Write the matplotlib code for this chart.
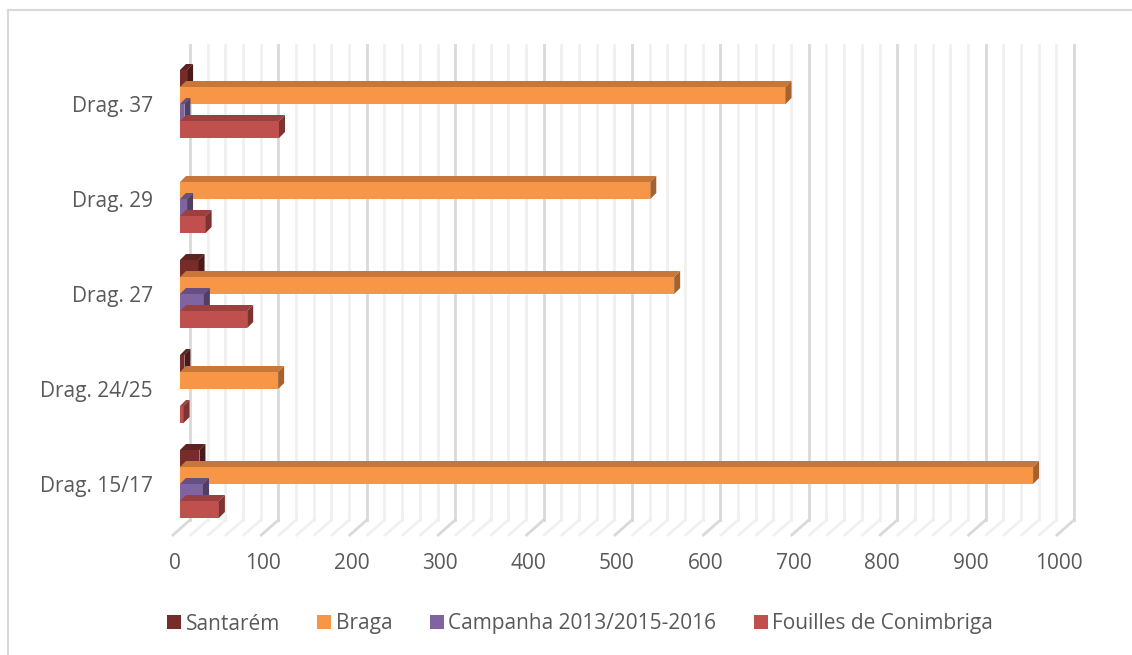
import numpy as np
import matplotlib
matplotlib.use('Agg')
import matplotlib.pyplot as plt
from matplotlib.patches import Polygon, Patch
from matplotlib.transforms import ScaledTranslation

plt.rcParams['font.family'] = ['Open Sans', 'DejaVu Sans']

# Categories bottom to top, and one value list per series
categories = ['Drag. 15/17', 'Drag. 24/25', 'Drag. 27', 'Drag. 29', 'Drag. 37']
santarem = [22, 5, 21, 0, 8]
braga = [965, 111, 559, 532, 685]
campanha = [26, 0, 27, 8, 5]
fouilles = [44, 4, 76, 29, 112]

series_names = ['Santarém', 'Braga', 'Campanha 2013/2015-2016', 'Fouilles de Conimbriga']
series_values = [santarem, braga, campanha, fouilles]
# front, top and side face colours
series_colors = [
    ('#772C2A', '#5E2220', '#4A1A19'),
    ('#F79646', '#C8773A', '#A5622D'),
    ('#8064A2', '#665083', '#4F3E66'),
    ('#C0504D', '#9A403E', '#7C3331'),
]

W, H = 1132, 655
fig = plt.figure(figsize=(W / 100, H / 100), dpi=100)

# axes placed in pixels: x=0 lands at 180 px, 0.884 px per unit; categories 95 px apart
ax_l, ax_r, ax_t, ax_b = 160, 1100, 40, 545
ax = fig.add_axes([ax_l / W, 1 - ax_b / H, (ax_r - ax_l) / W, (ax_b - ax_t) / H])
px_x = 0.884
px_y = 95.0
ax.set_xlim((ax_l - 180) / px_x, (ax_r - 180) / px_x)
ax.set_ylim(-(ax_b - 484) / px_y, (484 - ax_t) / px_y)

# back wall and floor gridlines
y_top = (484 - 45) / px_y
y_back = (484 - 520) / px_y
y_front = (484 - 535) / px_y
back_off = 10 / px_x
front_off = -7 / px_x
for t in range(0, 1001, 20):
    major = t % 100 == 0
    c = '#D9D9D9' if major else '#F0F0F0'
    ax.plot([t + back_off, t + back_off], [y_back, y_top], color=c, lw=2, zorder=0.5)
    ax.plot([t + back_off, t + front_off], [y_back, y_front], color=c, lw=2, zorder=0.5)

# bars with a shallow 3D top and side face
h = 17 / px_y
dx = 6 / px_x
dy = 6 / px_y
offsets = [1.5, 0.5, -0.5, -1.5]
y = np.arange(len(categories))
for k, (vals, cols, off) in enumerate(zip(series_values, series_colors, offsets)):
    front, top, side = cols
    for i, v in enumerate(vals):
        if v <= 0:
            continue
        yc = y[i] + off * h
        z = 2 + k
        ax.barh(yc, v, height=h, left=0, color=front, edgecolor='none', zorder=z)
        yt = yc + h / 2
        yb = yc - h / 2
        ax.add_patch(Polygon([(0, yt), (v, yt), (v + dx, yt + dy), (dx, yt + dy)],
                             closed=True, facecolor=top, edgecolor='none', zorder=z))
        ax.add_patch(Polygon([(v, yb), (v, yt), (v + dx, yt + dy), (v + dx, yb + dy)],
                             closed=True, facecolor=side, edgecolor='none', zorder=z))

for s in ax.spines.values():
    s.set_visible(False)

ax.set_yticks(y)
ax.set_yticklabels(categories)
ax.set_xticks(range(0, 1001, 100))
ax.tick_params(axis='both', length=0, labelsize=15, labelcolor='#595959')
ax.tick_params(axis='x', pad=6)
ax.tick_params(axis='y', pad=5)
for lab in ax.get_xticklabels():
    lab.set_transform(lab.get_transform() + ScaledTranslation(-5 / 100, 0, fig.dpi_scale_trans))

handles = [Patch(facecolor=c[0], edgecolor='none') for c in series_colors]
fig.legend(handles, series_names, loc='center', ncol=4, frameon=False,
           bbox_to_anchor=(580 / W, 1 - 624 / H), fontsize=15, labelcolor='#595959',
           handlelength=0.68, handleheight=0.68, handletextpad=0.2, columnspacing=1.8)

# chart frame (top and left edges)
fig.add_artist(plt.Line2D([8 / W, 1], [1 - 10 / H, 1 - 10 / H], color='#D9D9D9', lw=1.5))
fig.add_artist(plt.Line2D([8 / W, 8 / W], [0, 1 - 10 / H], color='#D9D9D9', lw=1.5))

fig.savefig('out.png', dpi=100, facecolor='white')
